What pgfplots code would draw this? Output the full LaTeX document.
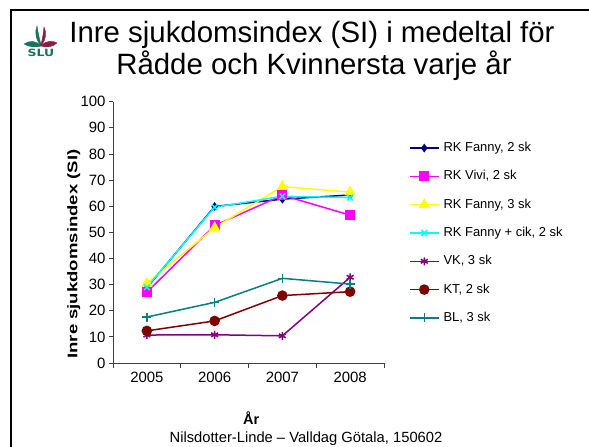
\documentclass[border=0pt]{standalone}
\usepackage{fontspec}
\setmainfont{Liberation Sans}
\newfontfamily\ylabfont[FakeStretch=1.33]{Liberation Sans}
\newfontfamily\slufont[FakeStretch=1.25]{DejaVu Sans}
\usepackage{pgfplots}
\pgfplotsset{compat=1.18}
\definecolor{cNavy}{RGB}{0,0,128}
\definecolor{cMag}{RGB}{255,0,255}
\definecolor{cYel}{RGB}{255,255,0}
\definecolor{cCyan}{RGB}{0,255,255}
\definecolor{cPurp}{RGB}{128,0,128}
\definecolor{cDRed}{RGB}{128,0,0}
\definecolor{cTeal}{RGB}{0,128,128}
\definecolor{sluGreen}{RGB}{25,115,95}
\definecolor{sluRed}{RGB}{140,30,70}
\begin{document}
\begin{tikzpicture}
\begin{scope}[x=1bp,y=1bp]
\useasboundingbox (0,0) rectangle (589,447);
% slide frame
\draw[line width=2.2bp] (11,0) -- (11,437) -- (589,437);
% logo
\filldraw[sluGreen, line width=0.4bp] (41,401) .. controls (36,407) and (29,406.5) .. (24,403) .. controls (29,400) and (36,399) .. (41,401);
\filldraw[sluRed, line width=0.4bp] (41,401) .. controls (46,407) and (53,406.5) .. (57,404) .. controls (53,400) and (46,399) .. (41,401);
\filldraw[sluGreen, line width=0.4bp] (41.5,401) .. controls (35.5,407) and (34.5,415) .. (37,421) .. controls (38,415) and (39.5,407) .. (41.5,401);
\filldraw[sluRed, line width=0.4bp] (40.5,401) .. controls (46.5,407) and (46.5,415) .. (44,420) .. controls (43.5,415) and (42.5,407) .. (40.5,401);
\node[font=\slufont\bfseries\fontsize{10}{11}\selectfont, text=sluGreen, inner sep=0pt] at (41,394.5) {SLU};
% title
\node[anchor=base, inner sep=0pt, font=\fontsize{29.5}{32}\selectfont] at (312,404) {Inre sjukdomsindex (SI) i medeltal för};
\node[anchor=base, inner sep=0pt, font=\fontsize{29.5}{32}\selectfont] at (314,372) {Rådde och Kvinnersta varje år};
% footer
\node[anchor=base, inner sep=0pt, font=\fontsize{14.8}{16}\selectfont] at (306,4) {Nilsdotter-Linde – Valldag Götala, 150602};
\end{scope}
\begin{axis}[
  at={(113bp,84bp)}, anchor=south west,
  scale only axis, width=271bp, height=261.3bp,
  xmin=-0.5, xmax=3.5, ymin=0, ymax=100,
  axis lines=left, axis line style={-, black!75, line width=0.8bp},
  every tick/.style={black!75, line width=0.8bp},
  tick align=outside, major tick length=4bp, minor tick length=5bp,
  ytick={0,10,...,100},
  xtick={0,1,2,3}, xticklabels={2005,2006,2007,2008},
  major x tick style={draw=none},
  minor xtick={-0.5,0.5,1.5,2.5,3.5},
  /pgf/number format/assume math mode=true,
  ticklabel style={font=\fontsize{15}{17}\selectfont},
  xticklabel style={yshift=-2bp},
  xlabel={År}, xlabel style={font=\bfseries\fontsize{14.5}{16}\selectfont, at={(axis description cs:0.51,-0.21)}, anchor=center},
  ylabel={Inre sjukdomsindex (SI)}, ylabel style={font=\ylabfont\bfseries\fontsize{14}{16}\selectfont, at={(axis description cs:-0.145,0.417)}, anchor=center},
  clip=false,
  legend style={at={(axis description cs:1.0923,0.8473)}, anchor=north west, draw=none, fill=none, inner sep=0pt, outer sep=0pt,
     font=\fontsize{13}{15}\selectfont, row sep=15.3bp,
     nodes={inner sep=0pt, text height=10bp, text depth=3bp}},
  legend cell align=left,
  legend image code/.code={\draw[mark repeat=2, mark phase=2] plot coordinates {(0bp,0bp) (14.5bp,0bp) (29bp,0bp)};\path (33bp,0bp);},
  every axis plot/.append style={line width=1.5bp},
]
\addplot[cNavy, mark=diamond*, mark size=3.2bp, mark options={solid}] coordinates {(0,28.8) (1,59.9) (2,62.7) (3,64.3)};
\addlegendentry{RK Fanny, 2 sk}
\addplot[cMag, mark=square*, mark size=4.3bp] coordinates {(0,27.1) (1,52.6) (2,64.2) (3,56.6)};
\addlegendentry{RK Vivi, 2 sk}
\addplot[cYel, mark=triangle*, mark size=5bp] coordinates {(0,30.5) (1,51.8) (2,67.5) (3,65.4)};
\addlegendentry{RK Fanny, 3 sk}
\addplot[cCyan, mark=x, mark size=4bp] coordinates {(0,29.0) (1,59.6) (2,63.8) (3,63.3)};
\addlegendentry{RK Fanny + cik, 2 sk}
\addplot[cPurp, mark=asterisk, mark size=4bp] coordinates {(0,10.7) (1,10.8) (2,10.4) (3,32.8)};
\addlegendentry{VK, 3 sk}
\addplot[cDRed, mark=*, mark size=4.5bp] coordinates {(0,12.3) (1,16.1) (2,25.8) (3,27.3)};
\addlegendentry{KT, 2 sk}
\addplot[cTeal, mark=+, mark size=4.5bp] coordinates {(0,17.6) (1,23.2) (2,32.4) (3,30.2)};
\addlegendentry{BL, 3 sk}
\end{axis}
\end{tikzpicture}
\end{document}
